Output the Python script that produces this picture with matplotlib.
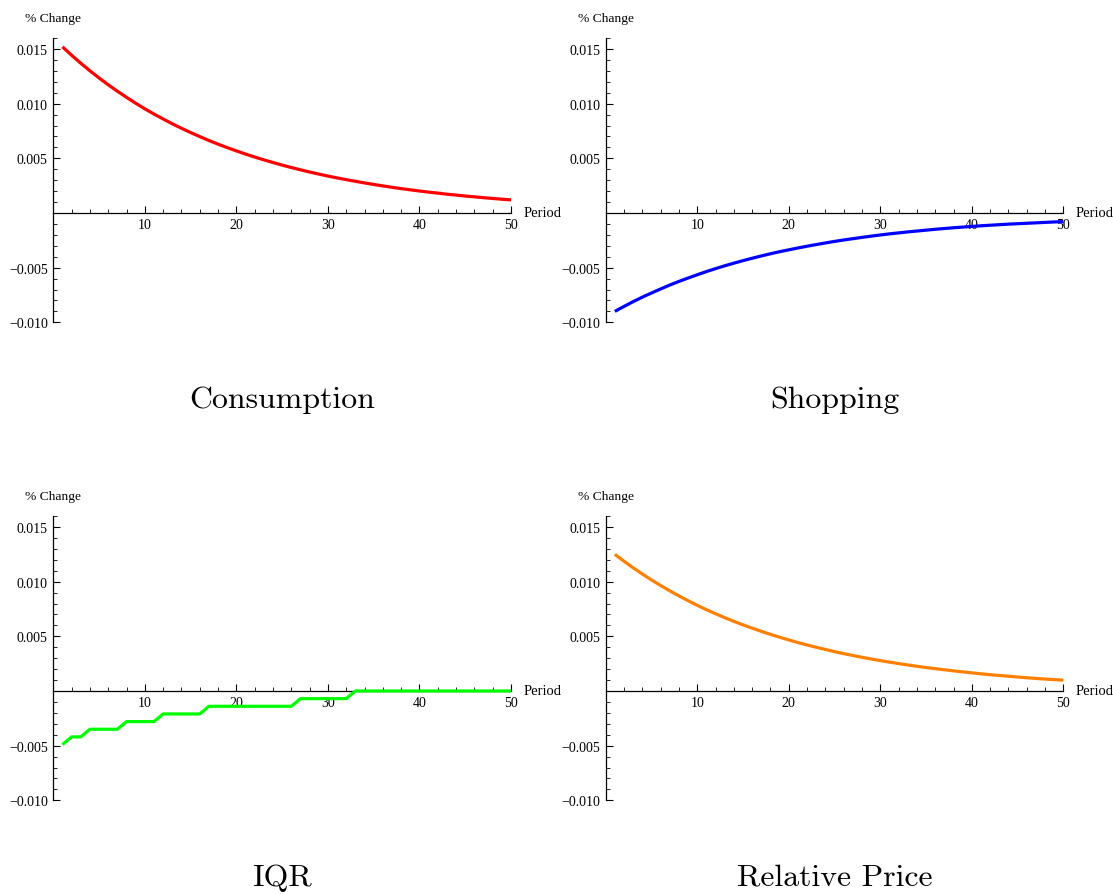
import matplotlib
matplotlib.use("Agg")
import matplotlib.pyplot as plt
from matplotlib.ticker import FixedLocator, MultipleLocator, FuncFormatter

periods = list(range(1, 51))

consumption = [
    0.01520, 0.01443, 0.01370, 0.01301, 0.01235, 0.01173, 0.01114, 0.01058, 0.01004, 0.00953,
    0.00905, 0.00860, 0.00816, 0.00775, 0.00736, 0.00699, 0.00663, 0.00630, 0.00598, 0.00568,
    0.00539, 0.00512, 0.00486, 0.00462, 0.00438, 0.00416, 0.00395, 0.00375, 0.00356, 0.00338,
    0.00321, 0.00305, 0.00290, 0.00275, 0.00261, 0.00248, 0.00235, 0.00223, 0.00212, 0.00201,
    0.00191, 0.00182, 0.00172, 0.00164, 0.00155, 0.00148, 0.00140, 0.00133, 0.00126, 0.00120,
]

shopping = [
    -0.00900, -0.00855, -0.00811, -0.00770, -0.00732, -0.00695, -0.00659, -0.00626, -0.00595, -0.00565,
    -0.00536, -0.00509, -0.00483, -0.00459, -0.00436, -0.00414, -0.00393, -0.00373, -0.00354, -0.00337,
    -0.00320, -0.00304, -0.00289, -0.00274, -0.00260, -0.00247, -0.00235, -0.00223, -0.00212, -0.00201,
    -0.00191, -0.00182, -0.00173, -0.00165, -0.00157, -0.00149, -0.00142, -0.00135, -0.00129, -0.00123,
    -0.00117, -0.00112, -0.00107, -0.00102, -0.00098, -0.00094, -0.00090, -0.00086, -0.00082, -0.00079,
]

iqr = (
    [-0.0049]
    + [-0.0042] * 2
    + [-0.0035] * 4
    + [-0.0028] * 4
    + [-0.0021] * 5
    + [-0.0014] * 10
    + [-0.0007] * 6
    + [0.0] * 18
)

relative_price = [
    0.01250, 0.01187, 0.01127, 0.01070, 0.01016, 0.00965, 0.00916, 0.00870, 0.00826, 0.00784,
    0.00744, 0.00707, 0.00671, 0.00637, 0.00605, 0.00575, 0.00546, 0.00518, 0.00492, 0.00467,
    0.00443, 0.00421, 0.00400, 0.00380, 0.00360, 0.00342, 0.00325, 0.00308, 0.00293, 0.00278,
    0.00264, 0.00251, 0.00238, 0.00226, 0.00215, 0.00204, 0.00194, 0.00184, 0.00175, 0.00166,
    0.00157, 0.00149, 0.00142, 0.00135, 0.00128, 0.00121, 0.00115, 0.00109, 0.00104, 0.00099,
]

titles = ["Consumption", "Shopping", "IQR", "Relative Price"]
colors = ["#ff0000", "#0000ff", "#00ff00", "#ff8000"]
series = [consumption, shopping, iqr, relative_price]

x_major = [10, 20, 30, 40, 50]
y_major = [-0.010, -0.005, 0.005, 0.010, 0.015]

W, H = 1113, 895
fig = plt.figure(figsize=(W / 100, H / 100), dpi=100)

serif = "Liberation Serif"

# panel placement in pixels: (left, top) of each plotting area
panel_px = [(53.3, 39.1), (605.7, 39.1), (53.3, 517.1), (605.7, 517.1)]
pw, ph = 457.7, 284.2
title_y = [400, 400, 878, 878]


def ylabel_fmt(v, pos):
    s = f"{abs(v):.3f}"
    return ("\u2212" + s) if v < 0 else s


for i, (left, top) in enumerate(panel_px):
    ax = fig.add_axes([left / W, 1 - (top + ph) / H, pw / W, ph / H])
    ax.set_xlim(0, 50)
    ax.set_ylim(-0.010, 0.016)
    ax.patch.set_alpha(0)

    for s in ("top", "right"):
        ax.spines[s].set_visible(False)
    ax.spines["left"].set_position(("data", 0))
    ax.spines["bottom"].set_position(("data", 0))
    for s in ("left", "bottom"):
        ax.spines[s].set_linewidth(0.9)

    ax.xaxis.set_major_locator(FixedLocator(x_major))
    ax.xaxis.set_minor_locator(MultipleLocator(2))
    ax.yaxis.set_major_locator(FixedLocator(y_major))
    ax.yaxis.set_minor_locator(MultipleLocator(0.001))
    ax.yaxis.set_major_formatter(FuncFormatter(ylabel_fmt))

    ax.tick_params(axis="both", which="major", direction="in", length=5, width=0.8,
                   labelsize=10, pad=3.5)
    ax.tick_params(axis="both", which="minor", direction="in", length=3, width=0.6)
    ax.tick_params(axis="y", which="major", pad=4)
    for lab in ax.get_xticklabels() + ax.get_yticklabels():
        lab.set_fontfamily(serif)

    ax.plot(periods, series[i], color=colors[i], lw=2.3, zorder=3,
            solid_joinstyle="round", solid_capstyle="butt", clip_on=False)

    ax.annotate("Period", xy=(50, 0), xytext=(9, 0), textcoords="offset points",
                ha="left", va="center", fontsize=10.5, fontfamily=serif)
    ax.annotate("% Change", xy=(0, 0.016), xytext=(0, 14.5), textcoords="offset points",
                ha="center", va="center", fontsize=9.7, fontfamily=serif)

    fig.text((left + pw / 2) / W, 1 - title_y[i] / H, titles[i], ha="center", va="center",
             fontsize=22.9, fontfamily="cmr10")

fig.savefig("out.png", dpi=100)
